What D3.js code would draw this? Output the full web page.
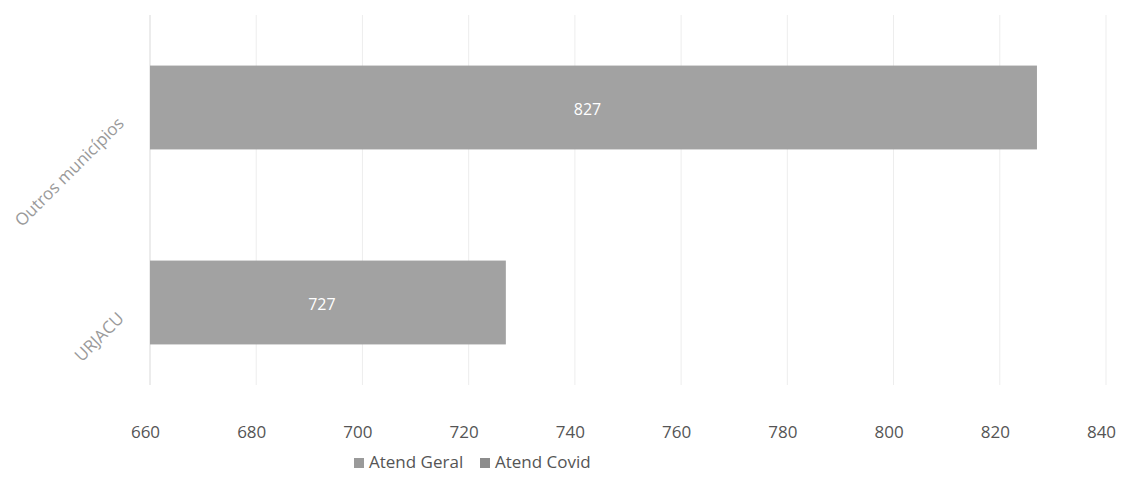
<!DOCTYPE html>
<html><head><meta charset="utf-8">
<script src="https://cdn.jsdelivr.net/npm/d3@7"></script>
<style>body{margin:0;background:#fff}svg{display:block}</style>
</head><body>
<svg id="c" width="1124" height="485"></svg>
<script>
const categories = ["Outros municípios", "URJACU"];
const atendGeral = [827, 727];
const atendCovid = [0, 0];
const seriesNames = ["Atend Geral", "Atend Covid"];
const xTicks = [660, 680, 700, 720, 740, 760, 780, 800, 820, 840];

const svg = d3.select("#c");
const m = {left:150, right:1106, top:10, bottom:400};
const x = d3.scaleLinear().domain([660, 840]).range([m.left, m.right]);
const y = d3.scaleBand().domain(categories).range([m.top, m.bottom]).paddingInner(0.57).paddingOuter(0.285);

// gridlines
svg.append("g").selectAll("line").data(xTicks).join("line")
  .attr("x1", d=>x(d)).attr("x2", d=>x(d)).attr("y1", 15).attr("y2", 385)
  .attr("stroke", "#ededed").attr("stroke-width", 1);

// axis
const ax = svg.append("g").attr("transform", `translate(-5,${m.bottom})`)
  .call(d3.axisBottom(x).tickValues(xTicks).tickSize(0).tickPadding(26));
ax.select(".domain").remove();
ax.selectAll("text").attr("font-family", "'Open Sans', sans-serif").attr("font-size", 17).attr("fill", "#555");

// left axis line
svg.append("line").attr("x1", m.left).attr("x2", m.left).attr("y1", 15).attr("y2", 385).attr("stroke", "#e2e2e2");

// bars
const data = categories.map((c,i)=>({c, v:atendGeral[i], cv:atendCovid[i]}));
svg.append("g").selectAll("rect").data(data).join("rect")
  .attr("x", x(660)).attr("y", d=>y(d.c)).attr("width", d=>x(d.v)-x(660)).attr("height", y.bandwidth())
  .attr("fill", "#a2a2a2");
svg.append("g").selectAll("text").data(data).join("text")
  .attr("x", d=>(x(660)+x(d.v))/2 - 6).attr("y", d=>y(d.c)+y.bandwidth()/2+3)
  .attr("text-anchor", "middle").attr("dominant-baseline", "middle")
  .attr("font-family", "'Open Sans', sans-serif").attr("font-size", 16).attr("fill", "#fff")
  .text(d=>d.v);

// category labels, rotated
svg.append("g").selectAll("text").data(categories).join("text")
  .attr("transform", d=>`translate(125,${y(d)+y.bandwidth()/2+17}) rotate(-45)`)
  .attr("text-anchor", "end")
  .attr("font-family", "'Open Sans', sans-serif").attr("font-size", 17).attr("fill", "#9a9a9a")
  .text(d=>d);

// legend
const lg = svg.append("g").attr("transform", "translate(0,463)");
const lx = [354, 480];
seriesNames.forEach((s,i)=>{
  lg.append("rect").attr("x", lx[i]).attr("y", -5).attr("width", 10).attr("height", 10).attr("fill", i===0?"#9a9a9a":"#8c8c8c");
  lg.append("text").attr("x", lx[i]+15).attr("y", 0).attr("dominant-baseline","middle")
    .attr("font-family", "'Open Sans', sans-serif").attr("font-size", 17).attr("fill", "#555").text(s);
});
</script>
</body></html>
